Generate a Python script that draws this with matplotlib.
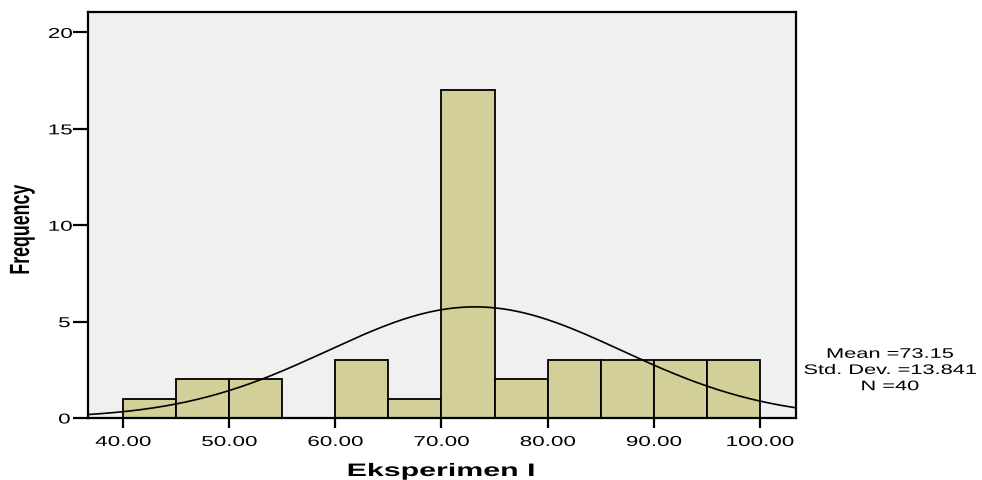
import numpy as np
import matplotlib
matplotlib.use("Agg")
import matplotlib.pyplot as plt
from matplotlib import patheffects
from matplotlib.transforms import Affine2D

# histogram data (bins of width 5)
bin_left = [40, 45, 50, 55, 60, 65, 70, 75, 80, 85, 90, 95]
counts = [1, 2, 2, 0, 3, 1, 17, 2, 3, 3, 3, 3]
bin_width = 5
mean_val = 73.15
std_val = 13.841
n_val = 40

x_ticks = [40, 50, 60, 70, 80, 90, 100]
y_ticks = [0, 5, 10, 15, 20]


class Stretch(patheffects.AbstractPathEffect):
    # scale glyphs along the text direction around their own centre
    def __init__(self, sx):
        super().__init__()
        self.sx = sx

    def draw_path(self, renderer, gc, tpath, affine, rgbFace=None):
        ext = tpath.get_extents()
        cx = (ext.x0 + ext.x1) / 2
        t = Affine2D().translate(-cx, 0).scale(self.sx, 1).translate(cx, 0) + affine
        renderer.draw_path(gc, tpath, t, rgbFace)


plt.rcParams['font.family'] = ['Liberation Sans', 'DejaVu Sans']
wide = [Stretch(1.57)]

fig = plt.figure(figsize=(9.82, 4.8), dpi=100)
ax = fig.add_axes([88 / 982, 1 - 418 / 480, (796 - 88) / 982, (418 - 12) / 480])
ax.set_facecolor('#f0f0f0')

ax.bar(bin_left, counts, width=bin_width, align='edge', color='#d3cf98',
       edgecolor='black', linewidth=1.3, zorder=2)

xs = np.linspace(36.7, 103.4, 400)
pdf = np.exp(-0.5 * ((xs - mean_val) / std_val) ** 2) / (std_val * np.sqrt(2 * np.pi))
ax.plot(xs, n_val * bin_width * pdf, color='black', linewidth=1.2, zorder=3)

ax.set_xlim(36.7, 103.4)
ax.set_ylim(0, 21.06)
ax.set_xticks(x_ticks)
ax.set_xticklabels([f"{v:.2f}" for v in x_ticks])
ax.set_yticks(y_ticks)
ax.tick_params(axis='x', length=7.2, width=1.6, pad=5, labelsize=10.3)
ax.tick_params(axis='y', length=10.8, width=1.6, pad=3.4, labelsize=10.3)
for lab in ax.get_xticklabels() + ax.get_yticklabels():
    lab.set_path_effects(wide)
for s in ax.spines.values():
    s.set_linewidth(1.6)
    s.set_zorder(4)

fig.text(441 / 982, 4 / 480, "Eksperimen I", ha='center', va='baseline',
         fontsize=13, fontweight='bold', path_effects=[Stretch(1.68)])
fig.text(22 / 982, 1 - 230 / 480, "Frequency", ha='center', va='center',
         rotation=90, fontsize=20, fontweight='bold', path_effects=[Stretch(0.64)])
fig.text(890 / 982, 1 - 370 / 480,
         f"Mean ={mean_val:.2f}\nStd. Dev. ={std_val:.3f}\nN ={n_val}",
         ha='center', va='center', multialignment='center', fontsize=10,
         path_effects=wide)

fig.savefig("out.png", dpi=100)
